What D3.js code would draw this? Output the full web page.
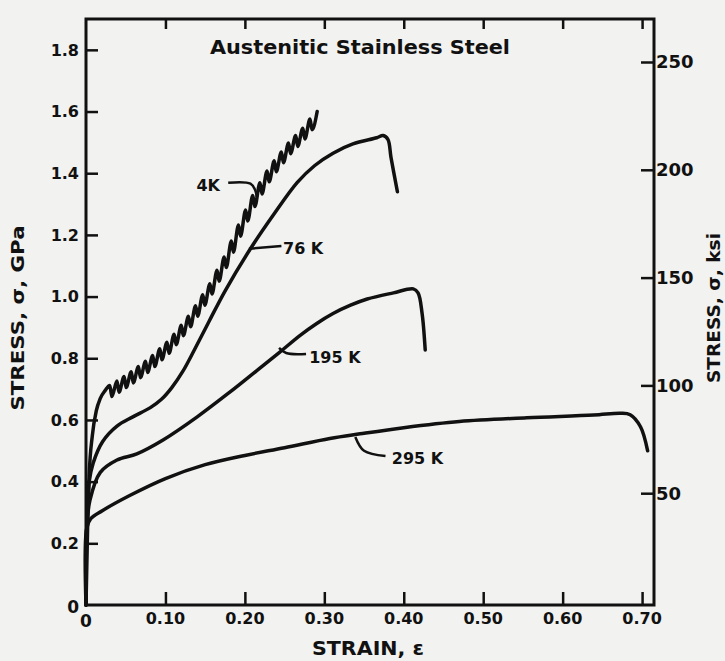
<!DOCTYPE html>
<html><head><meta charset="utf-8">
<script src="https://cdn.jsdelivr.net/npm/d3@7"></script>
<style>html,body{margin:0;padding:0;background:#f2f2f0;} svg{display:block;}</style>
</head><body><svg id="c" width="725" height="661"></svg>
<script>
// ---- data ----
const strainTicks = [0.1, 0.2, 0.3, 0.4, 0.5, 0.6, 0.7];
const strainTickLabels = ["0.10", "0.20", "0.30", "0.40", "0.50", "0.60", "0.70"];
const stressTicks = [0.2, 0.4, 0.6, 0.8, 1.0, 1.2, 1.4, 1.6, 1.8];
const stressTickLabels = ["0.2", "0.4", "0.6", "0.8", "1.0", "1.2", "1.4", "1.6", "1.8"];
const ksiTicks = [50, 100, 150, 200, 250];
const ksiTickLabels = ["50", "100", "150", "200", "250"];

const title = "Austenitic Stainless Steel";
const xTitle = "STRAIN, \u03b5";
const yTitleLeft = "STRESS, \u03c3, GPa";
const yTitleRight = "STRESS, \u03c3, ksi";
const seriesNames = ["4K", "76 K", "195 K", "295 K"];

// [strain, stress GPa]
const curve4K = [
 [0,0],[0.002,0.25],[0.004,0.42],[0.008,0.55],[0.013,0.63],[0.018,0.67],[0.024,0.695],
 [0.030,0.712],[0.0325,0.676],[0.039,0.726],[0.0415,0.690],[0.048,0.741],[0.0505,0.705],
 [0.057,0.756],[0.0595,0.720],[0.066,0.773],[0.0685,0.737],[0.075,0.790],[0.0775,0.754],
 [0.084,0.809],[0.0865,0.773],[0.093,0.831],[0.0955,0.795],[0.102,0.852],[0.1045,0.816],
 [0.111,0.878],[0.1135,0.844],[0.120,0.907],[0.1225,0.873],[0.129,0.936],[0.1315,0.902],
 [0.138,0.970],[0.1405,0.936],[0.147,1.006],[0.1495,0.972],[0.156,1.042],[0.1585,1.008],
 [0.165,1.085],[0.1675,1.050],[0.174,1.128],[0.1765,1.094],[0.183,1.180],[0.1855,1.144],
 [0.192,1.232],[0.1945,1.196],[0.201,1.281],[0.2035,1.245],[0.210,1.328],[0.2125,1.292],
 [0.219,1.369],[0.2215,1.333],[0.228,1.407],[0.2305,1.372],[0.237,1.440],[0.2395,1.405],
 [0.246,1.469],[0.2485,1.434],[0.255,1.498],[0.2575,1.463],[0.264,1.522],[0.2665,1.487],
 [0.273,1.546],[0.2755,1.511],[0.282,1.576],[0.2845,1.541],[0.291,1.600]
];
const curve76K = [
 [0,0],[0.001,0.25],[0.004,0.40],[0.009,0.46],[0.021,0.53],[0.039,0.58],[0.059,0.61],
 [0.081,0.64],[0.095,0.667],[0.108,0.705],[0.122,0.758],[0.137,0.830],[0.155,0.92],[0.175,1.018],
 [0.207,1.155],[0.236,1.265],[0.266,1.37],[0.288,1.425],[0.311,1.465],[0.336,1.495],
 [0.366,1.515],[0.374,1.522],[0.380,1.51],[0.384,1.45],[0.392,1.34]
];
const curve195K = [
 [0,0],[0.001,0.25],[0.005,0.34],[0.018,0.43],[0.039,0.47],[0.064,0.49],[0.097,0.535],
 [0.140,0.61],[0.181,0.69],[0.215,0.76],[0.244,0.82],[0.270,0.875],[0.290,0.912],
 [0.311,0.945],[0.333,0.972],[0.354,0.992],[0.387,1.012],[0.412,1.025],[0.418,1.012],
 [0.423,0.947],[0.427,0.827]
];
const curve295K = [
 [0,0],[0.001,0.25],[0.006,0.28],[0.020,0.305],[0.055,0.355],[0.100,0.41],[0.150,0.455],
 [0.200,0.485],[0.250,0.51],[0.307,0.54],[0.345,0.555],[0.400,0.575],[0.470,0.595],
 [0.555,0.607],[0.639,0.616],[0.673,0.622],[0.685,0.617],[0.698,0.578],[0.707,0.50]
];
const smoothCurves = [curve76K, curve195K, curve295K];

// ---- layout ----
const svg = d3.select("#c");
const ink = "#111";
const x = d3.scaleLinear().domain([0, 0.715]).range([86, 654]);
const y = d3.scaleLinear().domain([0, 1.9]).range([605, 19]);
const yR = d3.scaleLinear().domain([0, 250]).range([601, 62]);
const font = "'DejaVu Sans', 'Liberation Sans', Arial, sans-serif";

// frame
svg.append("rect").attr("x", x(0)).attr("y", y(1.9))
  .attr("width", x(0.715) - x(0)).attr("height", y(0) - y(1.9))
  .attr("fill", "none").attr("stroke", ink).attr("stroke-width", 3);

// left axis ticks (inward)
svg.append("g").attr("transform", `translate(${x(0)},0)`)
  .call(d3.axisRight(y).tickValues(stressTicks).tickSize(12).tickFormat(""))
  .call(g => g.select(".domain").remove())
  .call(g => g.selectAll("line").attr("stroke", ink).attr("stroke-width", 2.5));
svg.append("g").selectAll("text").data(stressTicks).join("text")
  .attr("x", 79).attr("y", d => y(d)).attr("dy", "0.36em")
  .attr("text-anchor", "end").attr("font-family", font).attr("font-weight", "bold")
  .attr("font-size", 16).attr("fill", ink).text((d, i) => stressTickLabels[i]);
svg.append("text").attr("x", 79).attr("y", y(0) + 2).attr("dy", "0.36em")
  .attr("text-anchor", "end").attr("font-family", font).attr("font-weight", "bold")
  .attr("font-size", 17).attr("fill", ink).text("0");

// bottom ticks (inward) and top ticks
svg.append("g").attr("transform", `translate(0,${y(0)})`)
  .call(d3.axisTop(x).tickValues(strainTicks).tickSize(13).tickFormat(""))
  .call(g => g.select(".domain").remove())
  .call(g => g.selectAll("line").attr("stroke", ink).attr("stroke-width", 2.5));
svg.append("g").attr("transform", `translate(0,${y(1.9)})`)
  .call(d3.axisBottom(x).tickValues(strainTicks).tickSize(10).tickFormat(""))
  .call(g => g.select(".domain").remove())
  .call(g => g.selectAll("line").attr("stroke", ink).attr("stroke-width", 2.5));
svg.append("g").selectAll("text").data(strainTicks).join("text")
  .attr("x", d => x(d)).attr("y", 618).attr("dy", "0.36em")
  .attr("text-anchor", "middle").attr("font-family", font).attr("font-weight", "bold")
  .attr("font-size", 16).attr("fill", ink).text((d, i) => strainTickLabels[i]);
svg.append("text").attr("x", x(0)).attr("y", 621).attr("dy", "0.36em")
  .attr("text-anchor", "middle").attr("font-family", font).attr("font-weight", "bold")
  .attr("font-size", 17).attr("fill", ink).text("0");

// right axis (ksi)
svg.append("g").attr("transform", `translate(${x(0.715)},0)`)
  .call(d3.axisLeft(yR).tickValues(ksiTicks).tickSize(13).tickFormat(""))
  .call(g => g.select(".domain").remove())
  .call(g => g.selectAll("line").attr("stroke", ink).attr("stroke-width", 2.5));
svg.append("g").selectAll("text").data(ksiTicks).join("text")
  .attr("x", x(0.715) + 2).attr("y", d => yR(d)).attr("dy", "0.36em")
  .attr("text-anchor", "start").attr("font-family", font).attr("font-weight", "bold")
  .attr("font-size", 18).attr("fill", ink).text((d, i) => ksiTickLabels[i]);

// titles
svg.append("text").attr("x", 360).attr("y", 47).attr("dy", "0.36em")
  .attr("text-anchor", "middle").attr("font-family", font).attr("font-weight", "bold")
  .attr("font-size", 19).attr("textLength", 300).attr("lengthAdjust", "spacingAndGlyphs")
  .attr("fill", ink).text(title);
svg.append("text").attr("x", 368).attr("y", 648).attr("dy", "0.36em")
  .attr("text-anchor", "middle").attr("font-family", font).attr("font-weight", "bold")
  .attr("font-size", 19).attr("textLength", 112).attr("lengthAdjust", "spacingAndGlyphs")
  .attr("fill", ink).text(xTitle);
svg.append("text").attr("transform", "translate(18,318) rotate(-90)").attr("dy", "0.36em")
  .attr("text-anchor", "middle").attr("font-family", font).attr("font-weight", "bold")
  .attr("font-size", 17).attr("textLength", 185).attr("lengthAdjust", "spacingAndGlyphs")
  .attr("fill", ink).text(yTitleLeft);
svg.append("text").attr("transform", "translate(714,308) rotate(-90)").attr("dy", "0.36em")
  .attr("text-anchor", "middle").attr("font-family", font).attr("font-weight", "bold")
  .attr("font-size", 17).attr("textLength", 150).attr("lengthAdjust", "spacingAndGlyphs")
  .attr("fill", ink).text(yTitleRight);

// curves
const line = d3.line().x(d => x(d[0])).y(d => y(d[1])).curve(d3.curveCatmullRom.alpha(0.5));
svg.append("g").selectAll("path").data(smoothCurves).join("path")
  .attr("d", line).attr("fill", "none").attr("stroke", ink)
  .attr("stroke-width", 3.5).attr("stroke-linejoin", "round").attr("stroke-linecap", "round");
const serrLine = d3.line().x(d => x(d[0])).y(d => y(d[1])).curve(d3.curveMonotoneX);
svg.append("path").datum(curve4K).attr("d", serrLine).attr("fill", "none").attr("stroke", ink)
  .attr("stroke-width", 3.5).attr("stroke-linejoin", "round").attr("stroke-linecap", "round");

// annotations (data coordinates)
const leaders = [
  [[0.179, 1.369], [0.207, 1.366], [0.213, 1.345], [0.215, 1.323]],
  [[0.205, 1.155], [0.246, 1.164]],
  [[0.243, 0.834], [0.252, 0.817], [0.277, 0.814]],
  [[0.339, 0.545], [0.350, 0.500], [0.377, 0.483]]
];
const labelPos = [[0.139, 1.362], [0.248, 1.158], [0.281, 0.804], [0.385, 0.477]];
svg.append("g").selectAll("path").data(leaders).join("path")
  .attr("d", d3.line().x(d => x(d[0])).y(d => y(d[1])).curve(d3.curveCatmullRom))
  .attr("fill", "none").attr("stroke", ink).attr("stroke-width", 2.5);
svg.append("g").selectAll("text").data(labelPos).join("text")
  .attr("x", d => x(d[0])).attr("y", d => y(d[1])).attr("dy", "0.36em")
  .attr("font-family", font).attr("font-weight", "bold").attr("font-size", 16)
  .attr("fill", ink).text((d, i) => seriesNames[i]);
</script>
</body></html>
